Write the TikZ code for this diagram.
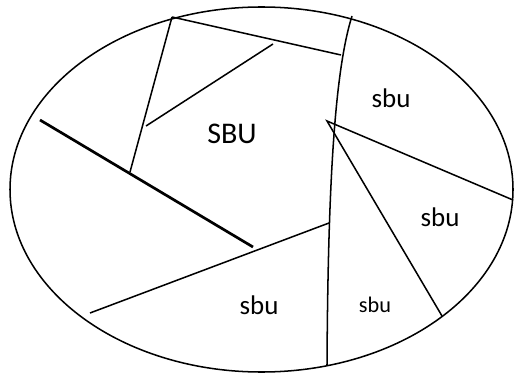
\documentclass[tikz,border=0pt]{standalone}
\usepackage{fontspec}
\setmainfont{Carlito}
\tikzset{
  rand/.style={black,line width=1.3pt},
  teil/.style={black,line width=1.3pt},
  dick/.style={black,line width=2.3pt},
  gross/.style={font=\fontsize{23}{27}\selectfont,inner sep=0pt},
  riese/.style={font=\fontsize{25.6}{30}\selectfont,inner sep=0pt},
  klein/.style={font=\fontsize{19}{22}\selectfont,inner sep=0pt},
}

\begin{document}
\begin{tikzpicture}[x=0.03cm,y=-0.03cm]
  \useasboundingbox (0,0) rectangle (515,374);
  \draw[rand] (261.5,189.5) ellipse [x radius=251.5,y radius=182.5];
  % Eckpunkte
  \coordinate (o) at (172,17);
  \coordinate (m1) at (341,55);
  \coordinate (m2) at (329,223);
  \coordinate (spitze) at (327,121);
  % geschwungene Trennlinie
  \draw[teil] (352,16) .. controls (335,70) and (328,180) .. (327,365);
  \draw[teil] (o) -- (m1);
  \draw[teil] (o) -- (130,172);
  \draw[teil] (146,126) -- (273,44);
  \draw[dick] (40,120) -- (253,247);
  \draw[teil] (90,313) -- (m2);
  \draw[teil] (513,200) -- (spitze) -- (442,316);
  % Beschriftung
  \node[riese] (gross) at (232,134) {SBU};
  \node[gross] (oben) at (391,98) {sbu};
  \node[gross] (rechts) at (440,217) {sbu};
  \node[gross] (unten) at (259,305) {sbu};
  \node[klein] (mitte) at (375,305) {sbu};
\end{tikzpicture}
\end{document}
